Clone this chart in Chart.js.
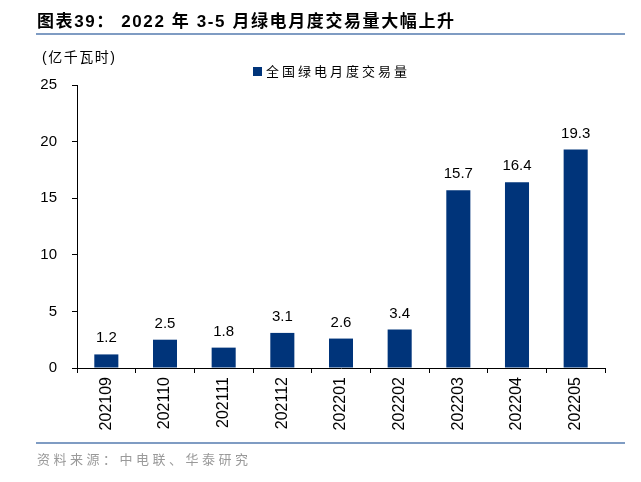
<!DOCTYPE html>
<html>
<head>
<meta charset="utf-8">
<script src="https://cdn.jsdelivr.net/npm/chart.js@4"></script>
<style>
  html, body { margin: 0; padding: 0; background: #fff; }
  body { width: 641px; height: 482px; position: relative; overflow: hidden; font-family: "Liberation Sans", "Noto Sans CJK SC", sans-serif; }
  #wrap { position: absolute; left: 0; top: 0; width: 641px; height: 482px; }
  .txt { position: absolute; white-space: nowrap; }
  #title { left: 37px; top: 7px; font-size: 17px; font-weight: bold; color: #000; letter-spacing: 1.6px; }
  #topline { position: absolute; left: 36px; width: 589px; top: 33px; height: 2px; background: #7f9cc3; }
  #unit { left: 42px; top: 46px; font-size: 14px; color: #000; letter-spacing: 1.5px; }
  #legend { left: 253px; top: 61px; font-size: 13px; color: #000; letter-spacing: 3px; }
  #legend .sw { display: inline-block; width: 9px; height: 9px; background: #00347a; margin-right: 4px; vertical-align: 0px; }
  #botline { position: absolute; left: 36px; width: 589px; top: 442px; height: 2px; background: #7f9cc3; }
  #source { left: 37px; top: 449px; font-size: 13px; color: #9a9a9a; letter-spacing: 3.5px; }
</style>
</head>
<body>
<div id="wrap"><canvas id="c" width="641" height="482"></canvas></div>
<div id="title" class="txt">图表39： 2022 年 3-5 月绿电月度交易量大幅上升</div>
<div id="topline"></div>
<div id="unit" class="txt">(亿千瓦时)</div>
<div id="legend" class="txt"><span class="sw"></span>全国绿电月度交易量</div>
<div id="botline"></div>
<div id="source" class="txt">资料来源：中电联、华泰研究</div>
<script>
const categories = ["202109", "202110", "202111", "202112", "202201", "202202", "202203", "202204", "202205"];
const seriesName = "全国绿电月度交易量";
const values = [1.2, 2.5, 1.8, 3.1, 2.6, 3.4, 15.7, 16.4, 19.3];
const yTicks = [0, 5, 10, 15, 20, 25];

const valueLabels = {
  id: 'valueLabels',
  afterDatasetsDraw(chart) {
    const ctx = chart.ctx;
    const meta = chart.getDatasetMeta(0);
    ctx.save();
    ctx.font = '15px "Liberation Sans", Arial, sans-serif';
    ctx.fillStyle = '#000';
    ctx.textAlign = 'center';
    ctx.textBaseline = 'alphabetic';
    meta.data.forEach((el, i) => {
      const v = chart.data.datasets[0].data[i];
      ctx.fillText(v.toFixed(1), el.x, el.y - 12);
    });
    ctx.restore();
  }
};

new Chart(document.getElementById('c'), {
  type: 'bar',
  data: {
    labels: categories,
    datasets: [{
      label: seriesName,
      data: values,
      backgroundColor: '#00347a',
      borderWidth: 0,
      barPercentage: 0.41,
      categoryPercentage: 1.0
    }]
  },
  options: {
    responsive: false,
    animation: false,
    devicePixelRatio: 1,
    layout: { padding: { top: 85, right: 36, bottom: 0, left: 0 } },
    plugins: {
      legend: { display: false },
      tooltip: { enabled: false },
      title: { display: false }
    },
    scales: {
      x: {
        offset: true,
        grid: { display: true, offset: true, drawOnChartArea: false, drawTicks: true, tickLength: 5, color: '#000', lineWidth: 1 },
        border: { display: true, color: '#000', width: 1 },
        ticks: {
          minRotation: 90, maxRotation: 90, autoSkip: false, padding: 4,
          color: '#000', font: { family: '"Liberation Sans", Arial, sans-serif', size: 16 }
        },
        afterFit(scale) { scale.height = 114; }
      },
      y: {
        min: 0, max: 25,
        afterBuildTicks(scale) { scale.ticks = yTicks.map(v => ({ value: v })); },
        grid: { display: true, drawOnChartArea: false, drawTicks: true, tickLength: 5, color: '#000', lineWidth: 1 },
        border: { display: true, color: '#000', width: 1 },
        ticks: {
          padding: 15, color: '#000',
          font: { family: '"Liberation Sans", Arial, sans-serif', size: 15 }
        },
        afterFit(scale) { scale.width = 77; }
      }
    }
  },
  plugins: [valueLabels]
});
</script>
</body>
</html>
